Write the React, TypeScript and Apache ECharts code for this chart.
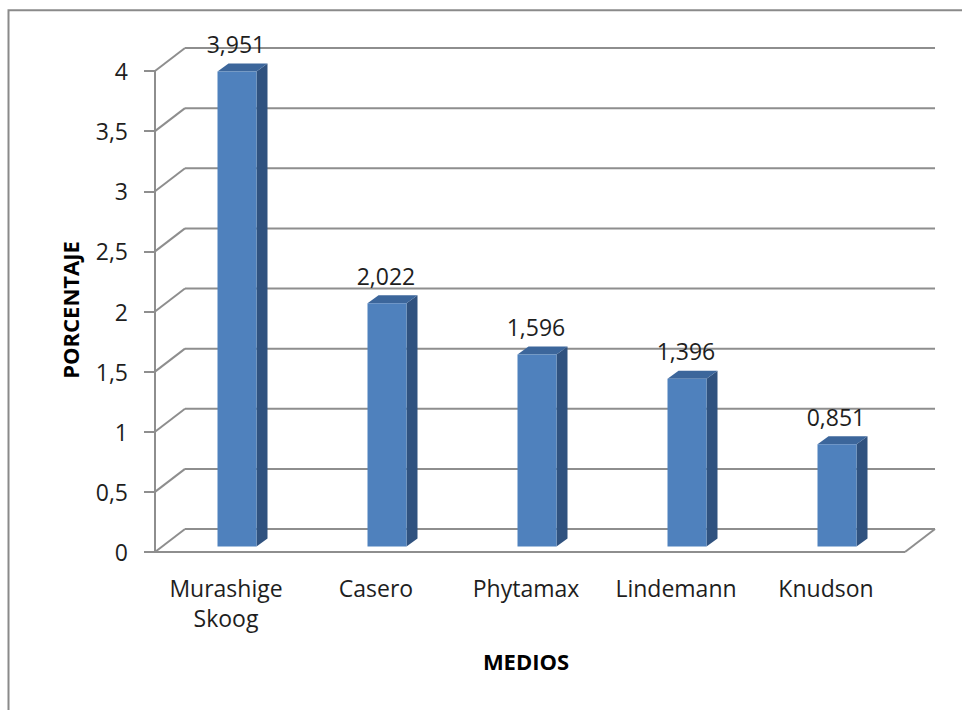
import React, { useEffect, useRef } from "react";
import * as echarts from "echarts";

// Medios de cultivo y su porcentaje
const categories = ["Murashige\nSkoog", "Casero", "Phytamax", "Lindemann", "Knudson"];
const values = [3.951, 2.022, 1.596, 1.396, 0.851];
const yTicks = [0, 0.5, 1, 1.5, 2, 2.5, 3, 3.5, 4];

const FONT = "'Open Sans', 'DejaVu Sans', sans-serif";
const GRID_COLOR = "#8e8e8e";
const TEXT_COLOR = "#1e1e1e";

// perspective offsets of the back wall and of the bars
const WALL_DX = 30;
const WALL_DY = -23;
const BAR_DX = 7;
const BAR_DY = -5.5;
const BAR_W = 39;
const SIDE_DX = 11;
const SIDE_DY = -8;

const fmtComma = (v: number, digits?: number) =>
  (digits === undefined ? String(v) : v.toFixed(digits)).replace(".", ",");

export default function App() {
  const ref = useRef<HTMLDivElement>(null);

  useEffect(() => {
    if (!ref.current) return;
    const chart = echarts.init(ref.current, null, { renderer: "svg" });

    const wallItem = (params: any, api: any) => {
      const cs = params.coordSys;
      const x0 = cs.x;
      const x1 = cs.x + cs.width;
      const yBase = cs.y + cs.height;
      const lineStyle = { stroke: GRID_COLOR, lineWidth: 2, fill: null };
      const children: any[] = [];
      yTicks.forEach((t) => {
        const y = api.coord([0, t])[1];
        children.push({
          type: "line",
          shape: { x1: x0, y1: y, x2: x0 + WALL_DX, y2: y + WALL_DY },
          style: lineStyle,
        });
        children.push({
          type: "line",
          shape: { x1: x0 + WALL_DX, y1: y + WALL_DY, x2: x1 + WALL_DX, y2: y + WALL_DY },
          style: lineStyle,
        });
      });
      // floor front edge and right edge
      children.push({
        type: "line",
        shape: { x1: x0, y1: yBase, x2: x1, y2: yBase },
        style: lineStyle,
      });
      children.push({
        type: "line",
        shape: { x1: x1, y1: yBase, x2: x1 + WALL_DX, y2: yBase + WALL_DY },
        style: lineStyle,
      });
      return { type: "group", children };
    };

    const barItem = (_params: any, api: any) => {
      const idx = api.value(0);
      const val = api.value(1);
      const top = api.coord([idx, val]);
      const base = api.coord([idx, 0]);
      const fx = top[0] + BAR_DX - BAR_W / 2;
      const yT = top[1] + BAR_DY;
      const yB = base[1] + BAR_DY;
      return {
        type: "group",
        children: [
          {
            type: "polygon",
            shape: {
              points: [
                [fx + BAR_W, yT],
                [fx + BAR_W + SIDE_DX, yT + SIDE_DY],
                [fx + BAR_W + SIDE_DX, yB + SIDE_DY],
                [fx + BAR_W, yB],
              ],
            },
            style: { fill: "#30527f" },
          },
          {
            type: "polygon",
            shape: {
              points: [
                [fx, yT],
                [fx + SIDE_DX, yT + SIDE_DY],
                [fx + BAR_W + SIDE_DX, yT + SIDE_DY],
                [fx + BAR_W, yT],
              ],
            },
            style: { fill: "#3c669b" },
          },
          {
            type: "rect",
            shape: { x: fx, y: yT, width: BAR_W, height: yB - yT },
            style: { fill: "#4f81bd" },
          },
          {
            type: "text",
            style: {
              text: fmtComma(val, 3),
              x: fx + BAR_W / 2 - 1,
              y: yT - 27.5,
              align: "center",
              verticalAlign: "middle",
              font: `23px ${FONT}`,
              fill: TEXT_COLOR,
            },
          },
        ],
      };
    };

    chart.setOption({
      animation: false,
      backgroundColor: "#ffffff",
      grid: { left: 155, top: 71, width: 750, height: 481, containLabel: false },
      xAxis: {
        type: "category",
        data: categories,
        axisLine: { show: false },
        axisTick: { show: false },
        axisLabel: {
          interval: 0,
          margin: 21,
          fontFamily: FONT,
          fontSize: 23,
          lineHeight: 30,
          color: TEXT_COLOR,
          padding: [0, 8, 0, 0],
        },
        splitLine: { show: false },
      },
      yAxis: {
        type: "value",
        min: 0,
        max: 4,
        interval: 0.5,
        axisLine: { show: true, lineStyle: { color: GRID_COLOR, width: 2 } },
        axisTick: { show: true, length: 11, lineStyle: { color: GRID_COLOR, width: 2 } },
        axisLabel: {
          margin: 27,
          fontFamily: FONT,
          fontSize: 23,
          color: TEXT_COLOR,
          formatter: (v: number) => fmtComma(v),
        },
        splitLine: { show: false },
      },
      graphic: [
        {
          type: "rect",
          shape: { x: 8.5, y: 10.3, width: 1000, height: 800 },
          style: { fill: null, stroke: "#8a8a8a", lineWidth: 2 },
          silent: true,
        },
        {
          type: "text",
          x: 70,
          y: 310,
          rotation: Math.PI / 2,
          style: {
            text: "PORCENTAJE",
            align: "center",
            verticalAlign: "middle",
            font: `bold 22px ${FONT}`,
            fill: "#000000",
          },
        },
        {
          type: "text",
          x: 526,
          y: 661,
          style: {
            text: "MEDIOS",
            align: "center",
            verticalAlign: "middle",
            font: `bold 22px ${FONT}`,
            fill: "#000000",
          },
        },
      ],
      series: [
        {
          type: "custom",
          name: "pared",
          z: 1,
          silent: true,
          renderItem: wallItem,
          data: [[0, 0]],
        },
        {
          type: "custom",
          name: "porcentaje",
          z: 2,
          renderItem: barItem,
          encode: { x: 0, y: 1 },
          data: values.map((v, i) => [i, v]),
        },
      ],
    });

    return () => chart.dispose();
  }, []);

  return (
    <div
      ref={ref}
      style={{ position: "absolute", left: 0, top: 0, width: 962, height: 710 }}
    />
  );
}
